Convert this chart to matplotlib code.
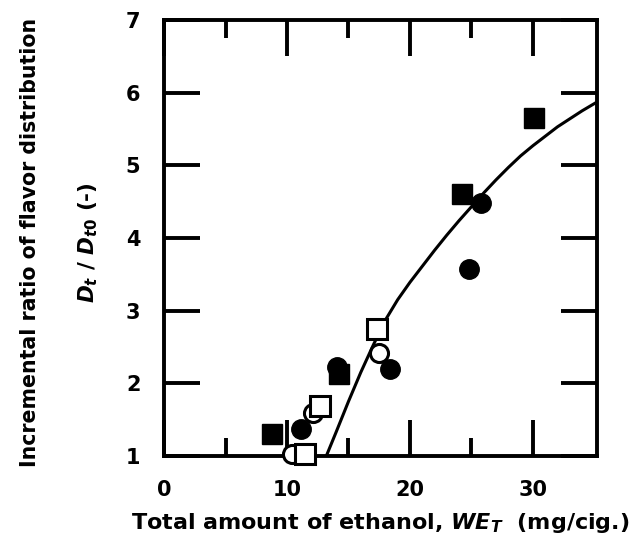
import matplotlib
matplotlib.use('Agg')
import matplotlib.pyplot as plt
from matplotlib.ticker import MultipleLocator, FixedLocator

# Dados
quad_cheio_x = [8.8, 14.2, 24.2, 30.1]
quad_cheio_y = [1.30, 2.13, 4.60, 5.65]

circ_cheio_x = [11.1, 14.1, 18.4, 24.8, 25.8]
circ_cheio_y = [1.37, 2.22, 2.20, 3.57, 4.48]

circ_aberto_x = [10.4, 12.1, 17.5]
circ_aberto_y = [1.02, 1.59, 2.41]

quad_aberto_x = [11.5, 12.7, 17.3]
quad_aberto_y = [1.02, 1.69, 2.75]

# Curva ajustada
curva_x = [13.2, 14.0, 15.0, 16.0, 17.0, 18.0, 19.0, 20.0, 21.0, 22.0, 23.0, 24.0,
           25.0, 26.0, 27.0, 28.0, 29.0, 30.0, 31.0, 32.0, 33.0, 34.0, 35.2]
curva_y = [1.00, 1.33, 1.75, 2.15, 2.52, 2.87, 3.15, 3.39, 3.61, 3.83, 4.04, 4.24,
           4.43, 4.62, 4.80, 4.97, 5.13, 5.27, 5.40, 5.53, 5.64, 5.75, 5.87]

plt.rcParams['font.family'] = ['DejaVu Sans']
plt.rcParams['font.weight'] = 'bold'
plt.rcParams['mathtext.default'] = 'it'

fig = plt.figure(figsize=(6.37, 5.48), dpi=100)
ax = fig.add_axes([0.2575, 0.168, 0.6795, 0.7955])

ax.plot(curva_x, curva_y, color='black', linewidth=2.2, zorder=2,
        solid_joinstyle='round', solid_capstyle='butt')

ax.plot(quad_cheio_x, quad_cheio_y, 's', color='black', markersize=15,
        linestyle='none', clip_on=False, zorder=3)
ax.plot(circ_cheio_x, circ_cheio_y, 'o', color='black', markersize=14,
        linestyle='none', clip_on=False, zorder=3)
ax.plot(circ_aberto_x, circ_aberto_y, 'o', markerfacecolor='white', markeredgecolor='black',
        markeredgewidth=2.2, markersize=13, linestyle='none', clip_on=False, zorder=4)
ax.plot(quad_aberto_x, quad_aberto_y, 's', markerfacecolor='white', markeredgecolor='black',
        markeredgewidth=2.2, markersize=14, linestyle='none', clip_on=False, zorder=4)

ax.set_xlim(0, 35.2)
ax.set_ylim(1, 7)
ax.xaxis.set_major_locator(MultipleLocator(10))
ax.xaxis.set_minor_locator(FixedLocator([5, 15, 25]))
ax.yaxis.set_major_locator(MultipleLocator(1))

for s in ax.spines.values():
    s.set_linewidth(2.8)

ax.tick_params(which='both', direction='in', top=True, right=True, width=2.8)
ax.tick_params(which='major', length=26, labelsize=15, pad=17)
ax.tick_params(which='minor', length=13)

for lab in ax.get_xticklabels() + ax.get_yticklabels():
    lab.set_fontweight('bold')

ax.set_xlabel(r'Total amount of ethanol, $WE_T$  (mg/cig.)', fontsize=16,
              fontweight='bold', labelpad=8)

fig.text(0.047, 0.557, 'Incremental ratio of flavor distribution', rotation=90,
         ha='center', va='center', fontsize=14.8, fontweight='bold')
fig.text(0.138, 0.557, r'$D_t$ / $D_{t0}$ (-)', rotation=90,
         ha='center', va='center', fontsize=15.5, fontweight='bold')

plt.savefig('out.png', dpi=100)
